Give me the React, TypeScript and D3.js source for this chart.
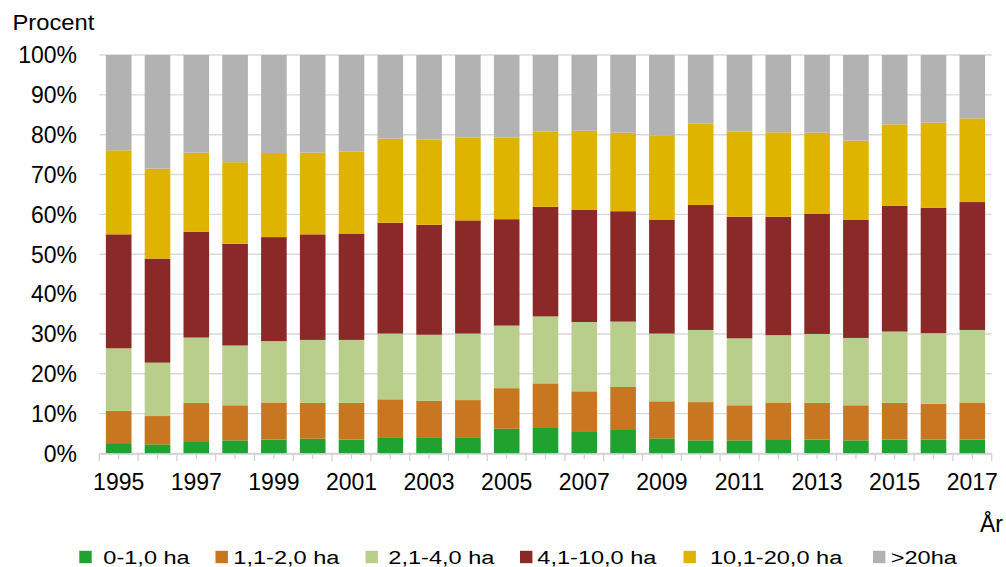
import React from "react";
import * as d3 from "d3";

const years = [
  "1995", "1996", "1997", "1998", "1999", "2000", "2001", "2002", "2003", "2004", "2005", "2006",
  "2007", "2008", "2009", "2010", "2011", "2012", "2013", "2014", "2015", "2016", "2017",
];

const seriesNames = ["0-1,0 ha", "1,1-2,0 ha", "2,1-4,0 ha", "4,1-10,0 ha", "10,1-20,0 ha", ">20ha"];
const seriesColors = ["#21a12f", "#c87720", "#b8ce8a", "#8b2828", "#deb400", "#b2b2b2"];

const ha0_1 = [2.6, 2.3, 3.1, 3.3, 3.5, 3.7, 3.5, 3.9, 3.9, 3.9, 6.2, 6.4, 5.4, 5.9, 3.8, 3.3, 3.3, 3.6, 3.5, 3.3, 3.5, 3.5, 3.5];
const ha1_2 = [8.1, 7.1, 9.6, 8.8, 9.3, 9.0, 9.2, 9.7, 9.3, 9.5, 10.2, 11.2, 10.2, 10.8, 9.3, 9.6, 8.8, 9.2, 9.2, 8.8, 9.2, 9.0, 9.3];
const ha2_4 = [15.7, 13.4, 16.4, 15.0, 15.4, 15.8, 15.8, 16.5, 16.6, 16.7, 15.7, 16.8, 17.4, 16.4, 17.0, 18.1, 16.8, 16.9, 17.3, 16.9, 17.9, 17.7, 18.2];
const ha4_10 = [28.6, 26.1, 26.5, 25.5, 26.1, 26.5, 26.7, 27.8, 27.6, 28.4, 26.7, 27.5, 28.1, 27.7, 28.6, 31.4, 30.5, 29.7, 30.2, 29.7, 31.6, 31.5, 32.1];
const ha10_20 = [21.1, 22.6, 19.9, 20.5, 21.1, 20.5, 20.6, 21.1, 21.4, 20.8, 20.5, 18.9, 19.9, 19.7, 21.0, 20.4, 21.4, 21.2, 20.3, 19.8, 20.4, 21.3, 21.0];
const ha20 = [23.9, 28.5, 24.5, 26.9, 24.6, 24.5, 24.2, 21.0, 21.2, 20.7, 20.7, 19.2, 19.0, 19.5, 20.3, 17.2, 19.2, 19.4, 19.5, 21.5, 17.4, 17.0, 15.9];

const yTicks = [0, 10, 20, 30, 40, 50, 60, 70, 80, 90, 100];

const W = 1006;
const H = 567;
const FONT = "'Liberation Sans', Arial, sans-serif";

export default function App() {
  const seriesValues = [ha0_1, ha1_2, ha2_4, ha4_10, ha10_20, ha20];
  const keys = seriesNames;
  const table = years.map((y, i) => {
    const row: Record<string, any> = { year: y };
    keys.forEach((k, s) => (row[k] = seriesValues[s][i]));
    return row;
  });
  const stack = d3.stack<any>().keys(keys).offset(d3.stackOffsetExpand);
  const stacked = stack(table);

  const x = d3.scaleBand<string>().domain(years).range([99.3, 991.7]).paddingInner(0.34).paddingOuter(0.17);
  const xb = d3.scaleBand<string>().domain(years).range([99.3, 991.7]);
  const y = d3.scaleLinear().domain([0, 1]).range([453.5, 55]);
  const yp = d3.scaleLinear().domain([0, 100]).range([453.5, 55]);

  const legendX = [
    { sq: 79.3, tx: 103.3 },
    { sq: 215.5, tx: 233.3 },
    { sq: 365.5, tx: 388.3 },
    { sq: 520, tx: 537.3 },
    { sq: 683.5, tx: 710 },
    { sq: 873, tx: 890.7 },
  ];

  return (
    <svg
      width={W}
      height={H}
      style={{ position: "absolute", left: 0, top: 0, background: "#fff" }}
      fontFamily={FONT}
    >
      <rect x={0} y={0} width={W} height={H} fill="#fff" />
      <g transform="translate(12.5,30)">
        <text transform="scale(1.08,1)" fontSize={22} fill="#000">Procent</text>
      </g>

      {yTicks.map((t) => (
        <g key={t}>
          <line x1={99.3} x2={991.7} y1={yp(t)} y2={yp(t)} stroke="#d9d9d9" strokeWidth={1.4} />
          <text x={77} y={yp(t)} dy="0.36em" textAnchor="end" fontSize={23} fill="#000">
            {t}%
          </text>
        </g>
      ))}

      {stacked.map((layer, s) => (
        <g key={layer.key} fill={seriesColors[s]}>
          {layer.map((d, i) => (
            <rect
              key={years[i]}
              x={x(years[i])}
              width={x.bandwidth()}
              y={y(d[1])}
              height={y(d[0]) - y(d[1])}
            />
          ))}
        </g>
      ))}

      <line x1={99.3} x2={991.7} y1={454} y2={454} stroke="#d0d0d0" strokeWidth={1.4} />
      {years.map((yr) => (
        <g key={yr}>
          <line x1={xb(yr)!} x2={xb(yr)!} y1={454} y2={461} stroke="#d0d0d0" strokeWidth={1.2} />
          <line
            x1={xb(yr)! + xb.bandwidth() / 2}
            x2={xb(yr)! + xb.bandwidth() / 2}
            y1={454}
            y2={459}
            stroke="#d0d0d0"
            strokeWidth={1.2}
          />
        </g>
      ))}
      <line x1={991.7} x2={991.7} y1={454} y2={461} stroke="#d0d0d0" strokeWidth={1.2} />

      {years.map((yr, i) =>
        i % 2 === 0 ? (
          <text
            key={yr}
            x={xb(yr)! + xb.bandwidth() / 2}
            y={490}
            textAnchor="middle"
            fontSize={23}
            fill="#000"
          >
            {yr}
          </text>
        ) : null
      )}

      <text x={1003} y={532} textAnchor="end" fontSize={23} fill="#000">År</text>

      {seriesNames.map((n, s) => (
        <g key={n}>
          <rect x={legendX[s].sq} y={550.8} width={12.4} height={12.4} fill={seriesColors[s]} />
          <g transform={`translate(${legendX[s].tx},563.5)`}>
            <text transform="scale(1.24,1)" fontSize={19} fill="#000">
              {n}
            </text>
          </g>
        </g>
      ))}
    </svg>
  );
}
